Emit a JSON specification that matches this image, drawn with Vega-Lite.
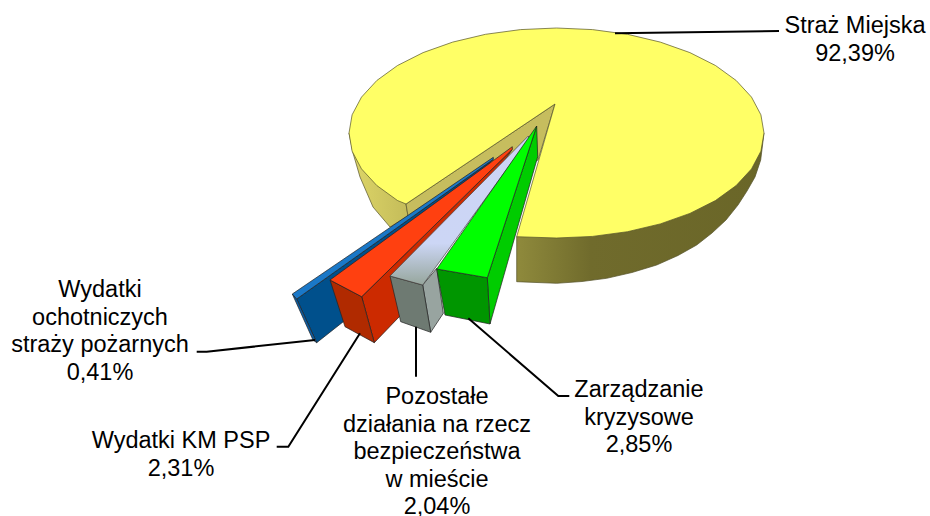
{"$schema":"https://vega.github.io/schema/vega-lite/v6.json","width":930,"height":516,"padding":0,"autosize":{"type":"none"},"background":"white","view":{"stroke":null},
"datasets":{"polys":[
{"part":"yl","i":0,"x":349,"y":133},{"part":"yl","i":1,"x":406,"y":204},{"part":"yl","i":2,"x":408,"y":216},{"part":"yl","i":3,"x":390,"y":227},{"part":"yl","i":4,"x":373,"y":207},{"part":"yl","i":5,"x":360,"y":177},{"part":"yl","i":6,"x":353,"y":153},{"part":"yl","i":7,"x":349,"y":133},
{"part":"yn","i":0,"x":555,"y":104},{"part":"yn","i":1,"x":406,"y":204},{"part":"yn","i":2,"x":408,"y":216},{"part":"yn","i":3,"x":538,"y":160},{"part":"yn","i":4,"x":555,"y":104},
{"part":"yr","i":0,"x":516.7,"y":236.7},{"part":"yr","i":1,"x":764,"y":133},{"part":"yr","i":2,"x":760.7,"y":160},{"part":"yr","i":3,"x":755,"y":177},{"part":"yr","i":4,"x":747,"y":191},{"part":"yr","i":5,"x":738,"y":205},{"part":"yr","i":6,"x":726,"y":220},{"part":"yr","i":7,"x":712,"y":233},{"part":"yr","i":8,"x":696.7,"y":245},{"part":"yr","i":9,"x":678,"y":255.5},{"part":"yr","i":10,"x":656.7,"y":265},{"part":"yr","i":11,"x":632,"y":272.5},{"part":"yr","i":12,"x":606.7,"y":278.3},{"part":"yr","i":13,"x":582,"y":281.5},{"part":"yr","i":14,"x":556.7,"y":283.3},{"part":"yr","i":15,"x":516.7,"y":281.7},{"part":"yr","i":16,"x":516.7,"y":236.7},
{"part":"yt","i":0,"x":406,"y":204},{"part":"yt","i":1,"x":397.5,"y":200.5},{"part":"yt","i":2,"x":376.8,"y":185.5},{"part":"yt","i":3,"x":361.5,"y":168.9},{"part":"yt","i":4,"x":352.1,"y":151.2},{"part":"yt","i":5,"x":349,"y":133},{"part":"yt","i":6,"x":352.1,"y":114.8},{"part":"yt","i":7,"x":361.5,"y":97.1},{"part":"yt","i":8,"x":376.8,"y":80.5},{"part":"yt","i":9,"x":397.5,"y":65.5},{"part":"yt","i":10,"x":423.1,"y":52.6},{"part":"yt","i":11,"x":452.7,"y":42.1},{"part":"yt","i":12,"x":485.5,"y":34.3},{"part":"yt","i":13,"x":520.5,"y":29.6},{"part":"yt","i":14,"x":556.5,"y":28},{"part":"yt","i":15,"x":592.5,"y":29.6},{"part":"yt","i":16,"x":627.5,"y":34.3},{"part":"yt","i":17,"x":660.3,"y":42.1},{"part":"yt","i":18,"x":689.9,"y":52.6},{"part":"yt","i":19,"x":715.5,"y":65.5},{"part":"yt","i":20,"x":736.2,"y":80.5},{"part":"yt","i":21,"x":751.5,"y":97.1},{"part":"yt","i":22,"x":760.9,"y":114.8},{"part":"yt","i":23,"x":764,"y":133},{"part":"yt","i":24,"x":760.9,"y":151.2},{"part":"yt","i":25,"x":751.5,"y":168.9},{"part":"yt","i":26,"x":736.2,"y":185.5},{"part":"yt","i":27,"x":715.5,"y":200.5},{"part":"yt","i":28,"x":689.9,"y":213.4},{"part":"yt","i":29,"x":660.3,"y":223.9},{"part":"yt","i":30,"x":627.5,"y":231.7},{"part":"yt","i":31,"x":592.5,"y":236.4},{"part":"yt","i":32,"x":556.5,"y":238},{"part":"yt","i":33,"x":516.7,"y":236.7},{"part":"yt","i":34,"x":555,"y":104},{"part":"yt","i":35,"x":406,"y":204},
{"part":"bs","i":0,"x":296.7,"y":299},{"part":"bs","i":1,"x":316.7,"y":342.7},{"part":"bs","i":2,"x":343.3,"y":321.7},{"part":"bs","i":3,"x":493.3,"y":159.3},{"part":"bs","i":4,"x":296.7,"y":299},
{"part":"bo","i":0,"x":292.3,"y":294},{"part":"bo","i":1,"x":296.7,"y":299},{"part":"bo","i":2,"x":316.7,"y":342.7},{"part":"bo","i":3,"x":313,"y":340},{"part":"bo","i":4,"x":292.3,"y":294},
{"part":"bt","i":0,"x":493.3,"y":157.3},{"part":"bt","i":1,"x":292.3,"y":294},{"part":"bt","i":2,"x":296.7,"y":299},{"part":"bt","i":3,"x":493.3,"y":159.3},{"part":"bt","i":4,"x":493.3,"y":157.3},
{"part":"rs","i":0,"x":361.7,"y":296.7},{"part":"rs","i":1,"x":374.3,"y":342.7},{"part":"rs","i":2,"x":399.3,"y":316.7},{"part":"rs","i":3,"x":512.3,"y":149.3},{"part":"rs","i":4,"x":361.7,"y":296.7},
{"part":"rf","i":0,"x":330,"y":280},{"part":"rf","i":1,"x":345,"y":326.7},{"part":"rf","i":2,"x":374.3,"y":342.7},{"part":"rf","i":3,"x":361.7,"y":296.7},{"part":"rf","i":4,"x":330,"y":280},
{"part":"rt","i":0,"x":512.3,"y":146.7},{"part":"rt","i":1,"x":330,"y":280},{"part":"rt","i":2,"x":361.7,"y":296.7},{"part":"rt","i":3,"x":512.3,"y":149.3},{"part":"rt","i":4,"x":512.3,"y":146.7},
{"part":"gs","i":0,"x":422.7,"y":285},{"part":"gs","i":1,"x":430.7,"y":332.3},{"part":"gs","i":2,"x":443.3,"y":313.3},{"part":"gs","i":3,"x":436.7,"y":268.3},{"part":"gs","i":4,"x":422.7,"y":285},
{"part":"gf","i":0,"x":390,"y":276},{"part":"gf","i":1,"x":400.7,"y":321.7},{"part":"gf","i":2,"x":430.7,"y":332.3},{"part":"gf","i":3,"x":422.7,"y":285},{"part":"gf","i":4,"x":390,"y":276},
{"part":"gt","i":0,"x":528.3,"y":136},{"part":"gt","i":1,"x":390,"y":276},{"part":"gt","i":2,"x":422.7,"y":285},{"part":"gt","i":3,"x":529.3,"y":138.3},{"part":"gt","i":4,"x":528.3,"y":136},
{"part":"ns","i":0,"x":487.3,"y":277.7},{"part":"ns","i":1,"x":490,"y":324},{"part":"ns","i":2,"x":537.7,"y":156.7},{"part":"ns","i":3,"x":536.7,"y":126},{"part":"ns","i":4,"x":487.3,"y":277.7},
{"part":"nf","i":0,"x":436.7,"y":269},{"part":"nf","i":1,"x":445,"y":315},{"part":"nf","i":2,"x":490,"y":324},{"part":"nf","i":3,"x":487.3,"y":277.7},{"part":"nf","i":4,"x":436.7,"y":269},
{"part":"nt","i":0,"x":536.7,"y":126},{"part":"nt","i":1,"x":436.7,"y":269},{"part":"nt","i":2,"x":487.3,"y":277.7},{"part":"nt","i":3,"x":536.7,"y":126}
],
"leaders":[
{"label":"Straż Miejska","i":0,"x":615,"y":33.3},{"label":"Straż Miejska","i":1,"x":779,"y":31},
{"label":"Wydatki ochotniczych","i":0,"x":196.7,"y":351.7},{"label":"Wydatki ochotniczych","i":1,"x":206.7,"y":351.7},{"label":"Wydatki ochotniczych","i":2,"x":315,"y":340},
{"label":"Wydatki KM PSP","i":0,"x":276.7,"y":446.7},{"label":"Wydatki KM PSP","i":1,"x":288.3,"y":446.7},{"label":"Wydatki KM PSP","i":2,"x":360,"y":333.3},
{"label":"Pozostałe","i":0,"x":416,"y":326.7},{"label":"Pozostałe","i":1,"x":416,"y":376.7},
{"label":"Zarządzanie","i":0,"x":468.3,"y":318.3},{"label":"Zarządzanie","i":1,"x":558.3,"y":396},{"label":"Zarządzanie","i":2,"x":569.3,"y":396}
],
"labels":[
{"text":"Straż Miejska\n92,39%","x":855,"y":14},
{"text":"Wydatki\nochotniczych\nstraży pożarnych\n0,41%","x":100,"y":278},
{"text":"Wydatki KM PSP\n2,31%","x":181,"y":429},
{"text":"Pozostałe\ndziałania na rzecz\nbezpieczeństwa\nw mieście\n2,04%","x":437,"y":385},
{"text":"Zarządzanie\nkryzysowe\n2,85%","x":639,"y":378}
]},
"data":{"name":"polys"},
"encoding":{
"x":{"field":"x","type":"quantitative","scale":{"domain":[0,930],"nice":false,"zero":false},"axis":null},
"y":{"field":"y","type":"quantitative","scale":{"domain":[516,0],"nice":false,"zero":false},"axis":null},
"order":{"field":"i","type":"quantitative"}},
"layer":[
{"transform":[{"filter":"datum.part==='yl'"}],"mark":{"type":"line","strokeWidth":0.7,"stroke":"#55522a","fill":{"gradient":"linear","x1":0,"x2":1,"y1":0,"y2":0,"stops":[{"offset":0,"color":"#ded668"},{"offset":1,"color":"#c4bc5a"}]}}},
{"transform":[{"filter":"datum.part==='yn'"}],"mark":{"type":"line","strokeWidth":0.7,"stroke":"#55522a","fill":"#c6bd5e"}},
{"transform":[{"filter":"datum.part==='yr'"}],"mark":{"type":"line","strokeWidth":0.7,"stroke":"#55522a","fill":{"gradient":"linear","x1":0,"x2":1,"y1":0,"y2":0,"stops":[{"offset":0,"color":"#8f8a3c"},{"offset":0.3,"color":"#706b2c"},{"offset":1,"color":"#6a6628"}]}}},
{"transform":[{"filter":"datum.part==='yt'"}],"mark":{"type":"line","strokeWidth":0.7,"stroke":"#55522a","fill":"#ffff66"}},
{"transform":[{"filter":"datum.part==='bs'"}],"mark":{"type":"line","strokeWidth":0.7,"stroke":"#222222","fill":"#00508c"}},
{"transform":[{"filter":"datum.part==='bo'"}],"mark":{"type":"line","strokeWidth":0.7,"stroke":"#222222","fill":"#0a5ea8"}},
{"transform":[{"filter":"datum.part==='bt'"}],"mark":{"type":"line","strokeWidth":0.7,"stroke":"#222222","fill":"#1a78c8"}},
{"transform":[{"filter":"datum.part==='rs'"}],"mark":{"type":"line","strokeWidth":0.7,"stroke":"#222222","fill":"#cc2a00"}},
{"transform":[{"filter":"datum.part==='rf'"}],"mark":{"type":"line","strokeWidth":0.7,"stroke":"#222222","fill":"#b02a00"}},
{"transform":[{"filter":"datum.part==='rt'"}],"mark":{"type":"line","strokeWidth":0.7,"stroke":"#222222","fill":"#ff4010"}},
{"transform":[{"filter":"datum.part==='gs'"}],"mark":{"type":"line","strokeWidth":0.7,"stroke":"#222222","fill":"#98a4a0"}},
{"transform":[{"filter":"datum.part==='gf'"}],"mark":{"type":"line","strokeWidth":0.7,"stroke":"#222222","fill":"#6e7a72"}},
{"transform":[{"filter":"datum.part==='gt'"}],"mark":{"type":"line","strokeWidth":0.7,"stroke":"#444444","fill":{"gradient":"linear","x1":0,"x2":0,"y1":0,"y2":1,"stops":[{"offset":0,"color":"#ccd4f5"},{"offset":0.72,"color":"#ccd6f5"},{"offset":1,"color":"#96a69c"}]}}},
{"transform":[{"filter":"datum.part==='ns'"}],"mark":{"type":"line","strokeWidth":0.7,"stroke":"#222222","fill":"#00cc00"}},
{"transform":[{"filter":"datum.part==='nf'"}],"mark":{"type":"line","strokeWidth":0.7,"stroke":"#222222","fill":"#009600"}},
{"transform":[{"filter":"datum.part==='nt'"}],"mark":{"type":"line","strokeWidth":0.7,"stroke":"#222222","fill":"#00ff00"}},
{"data":{"name":"leaders"},"mark":{"type":"line","stroke":"#000000","strokeWidth":2},"encoding":{"detail":{"field":"label"}}},
{"data":{"name":"labels"},"mark":{"type":"text","font":"Liberation Sans","fontSize":23.5,"lineHeight":27.6,"lineBreak":"\n","align":"center","baseline":"top","color":"#000000"},"encoding":{"text":{"field":"text"},"order":null}}
]}
